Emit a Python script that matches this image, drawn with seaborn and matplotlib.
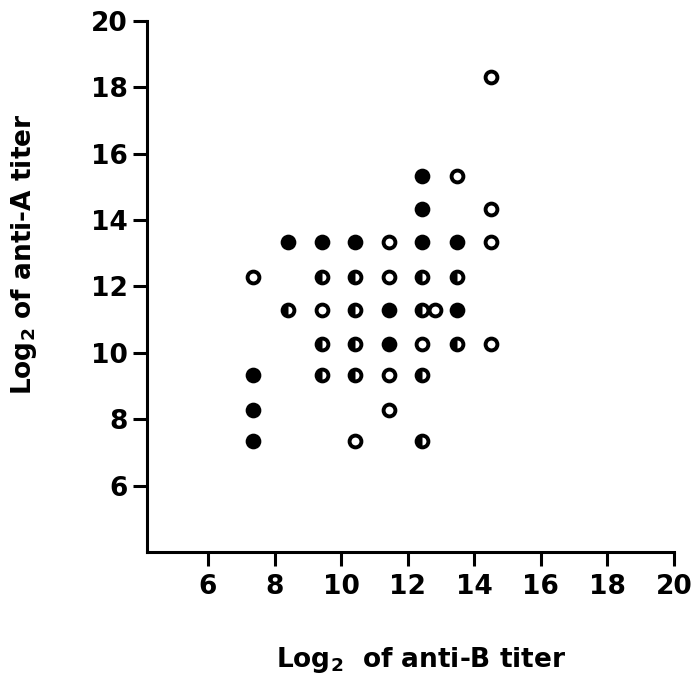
import matplotlib
matplotlib.use("Agg")
import matplotlib.pyplot as plt
from matplotlib.markers import MarkerStyle
import pandas as pd
import seaborn as sns

# log2 titers
filled_x = [12.43, 12.43, 8.40, 9.42, 10.41, 12.43, 13.48, 11.44, 13.48, 11.44, 7.35, 7.35, 7.35]
filled_y = [15.33, 14.32, 13.34, 13.34, 13.34, 13.34, 13.34, 11.30, 11.30, 10.27, 9.34, 8.29, 7.33]

open_x = [14.5, 13.48, 14.5, 11.44, 14.5, 7.35, 11.44, 9.42, 12.82, 12.43, 14.5, 11.44, 11.44, 10.41]
open_y = [18.3, 15.33, 14.32, 13.34, 13.34, 12.29, 12.29, 11.30, 11.30, 10.27, 10.27, 9.34, 8.29, 7.33]

half_x = [9.42, 10.41, 12.43, 13.48, 8.40, 10.41, 12.43, 9.42, 10.41, 13.48, 9.42, 10.41, 12.43, 12.43]
half_y = [12.29, 12.29, 12.29, 12.29, 11.30, 11.30, 11.30, 10.27, 10.27, 10.27, 9.34, 9.34, 9.34, 7.33]

ticks = [6, 8, 10, 12, 14, 16, 18, 20]

sns.set_style("ticks")
plt.rcParams["font.family"] = ["DejaVu Sans"]
plt.rcParams["font.weight"] = "bold"
plt.rcParams["text.color"] = "black"
plt.rcParams["axes.labelcolor"] = "black"
plt.rcParams["mathtext.fontset"] = "custom"
plt.rcParams["mathtext.rm"] = "DejaVu Sans:bold"
plt.rcParams["mathtext.default"] = "rm"

df_filled = pd.DataFrame({"b": filled_x, "a": filled_y})
df_open = pd.DataFrame({"b": open_x, "a": open_y})
df_half = pd.DataFrame({"b": half_x, "a": half_y})

fig = plt.figure(figsize=(6.96, 6.77), dpi=100)
ax = fig.add_axes([0.2112, 0.1846, 0.7572, 0.7848])

ms = 8.5   # marker size (pt)
mew = 2.8  # ring width (pt)

sns.scatterplot(data=df_filled, x="b", y="a", ax=ax, marker="o", s=(ms + mew) ** 2,
                color="black", edgecolor="black", linewidth=0, zorder=3)
sns.scatterplot(data=df_open, x="b", y="a", ax=ax, marker="o", s=ms ** 2,
                facecolor="white", edgecolor="black", linewidth=mew, zorder=3)
# half filled: ring + left half disc
sns.scatterplot(data=df_half, x="b", y="a", ax=ax, marker="o", s=ms ** 2,
                facecolor="white", edgecolor="black", linewidth=mew, zorder=3)
sns.scatterplot(data=df_half, x="b", y="a", ax=ax, marker=MarkerStyle("o", fillstyle="left"),
                s=ms ** 2, color="black", edgecolor="black", linewidth=0, zorder=4)

ax.set_xlim(4.17, 20)
ax.set_ylim(4, 20)
ax.set_xticks(ticks)
ax.set_yticks(ticks)
ax.set_xticklabels([str(t) for t in ticks])
ax.set_yticklabels([str(t) for t in ticks])
sns.despine(ax=ax)
for s in ["left", "bottom"]:
    ax.spines[s].set_linewidth(2.2)
    ax.spines[s].set_color("black")
ax.tick_params(axis="both", direction="out", length=10, width=2.2, labelsize=19,
               colors="black", labelcolor="black")
ax.tick_params(axis="x", pad=6)
ax.tick_params(axis="y", pad=4)

ax.set_xlabel("Log$_2$  of anti-B titer", fontsize=19, fontweight="bold", color="black")
ax.set_ylabel("Log$_2$ of anti-A titer", fontsize=19, fontweight="bold", color="black")
ax.xaxis.set_label_coords(0.52, -0.175)
ax.yaxis.set_label_coords(-0.205, 0.56)

fig.savefig("out.png", dpi=100)
